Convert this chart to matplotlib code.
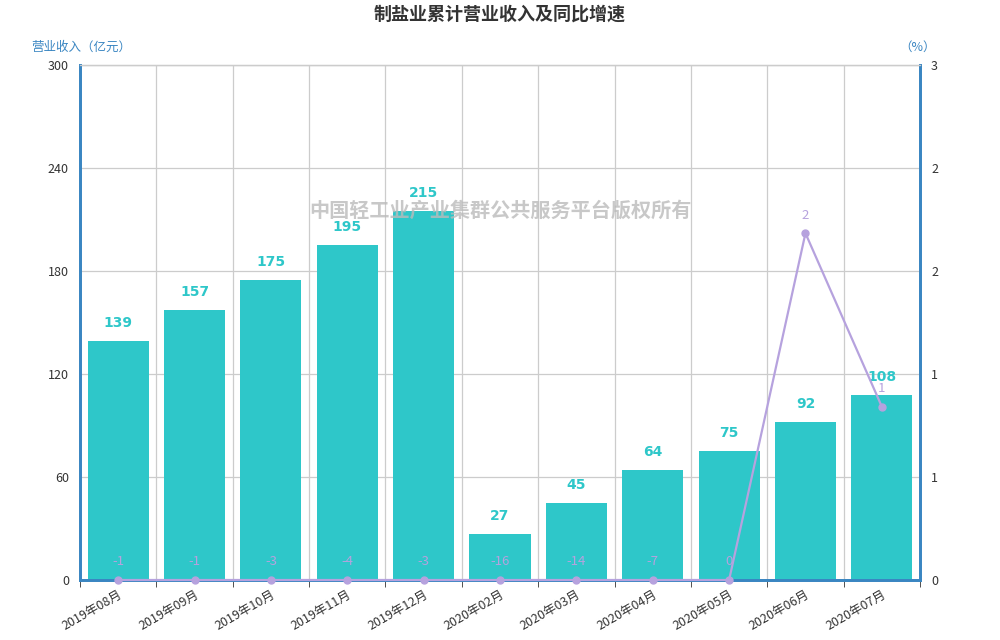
import numpy as np
import matplotlib
matplotlib.use('Agg')
import matplotlib.pyplot as plt
import matplotlib.ticker as mticker

plt.rcParams['font.family'] = ['Noto Sans CJK SC', 'DejaVu Sans']

months  = ['2019年08月', '2019年09月', '2019年10月', '2019年11月', '2019年12月',
           '2020年02月', '2020年03月', '2020年04月', '2020年05月', '2020年06月', '2020年07月']
revenue = [139, 157, 175, 195, 215, 27, 45, 64, 75, 92, 108]
growth  = [-1, -1, -3, -4, -3, -16, -14, -7, 0, 2.02, 1.01]
growth_labels = ['-1', '-1', '-3', '-4', '-3', '-16', '-14', '-7', '0', '2', '1']

barcolor  = '#2ec7c9'
linecolor = '#b6a2de'
axiscolor = '#3a86c2'
gridcolor = '#cccccc'

fig = plt.figure(figsize=[10, 6.4], dpi=100)
ax = fig.add_axes([0.08, 0.09375, 0.84, 0.8047])
ax2 = ax.twinx()

x = np.arange(len(months))
ax.bar(x, revenue, width=0.8, color=barcolor, zorder=2)
ax.set_xlim(-0.5, len(months) - 0.5)
ax.set_ylim(0, 300)
ax.yaxis.set_major_locator(mticker.MultipleLocator(60))

for xi, v in zip(x, revenue):
    ax.annotate(str(v), (xi, v), xytext=(0, 13), textcoords='offset points',
                ha='center', va='center', color=barcolor, fontsize=10,
                fontweight='bold', family='DejaVu Sans', zorder=5)

# line on right axis; values below the axis floor sit on the floor
ax2.set_ylim(0, 3)
gplot = np.clip(growth, 0, None)
ax2.plot(x, gplot, color=linecolor, linewidth=1.6, marker='o', markersize=5,
         clip_on=False, zorder=4)
for xi, v, lab in zip(x, gplot, growth_labels):
    ax2.annotate(lab, (xi, v), xytext=(0, 13), textcoords='offset points',
                 ha='center', va='center', color=linecolor, fontsize=9.5, zorder=5)
ax2.yaxis.set_major_locator(mticker.MultipleLocator(0.6))
ax2.yaxis.set_major_formatter(mticker.FormatStrFormatter('%.0f'))

# grid and ticks
ax.set_xticks(np.arange(len(months) + 1) - 0.5, minor=True)
ax.set_xticks(x)
ax.set_xticklabels(months, rotation=30, ha='right', rotation_mode='anchor',
                   fontsize=9, color='#333333')
ax.tick_params(axis='x', which='major', length=0, pad=6)
ax.tick_params(axis='x', which='minor', length=5, color='#333333', direction='out')
ax.grid(axis='x', which='minor', color=gridcolor, linewidth=0.9, zorder=0)
ax.grid(axis='y', which='major', color=gridcolor, linewidth=0.9, zorder=0)
ax.set_axisbelow(True)

ax.tick_params(axis='y', length=0, pad=8, labelsize=9, labelcolor='#333333')
ax2.tick_params(axis='y', length=0, pad=8, labelsize=9, labelcolor='#333333')

for a in (ax, ax2):
    a.spines['top'].set_color(gridcolor)
    a.spines['top'].set_linewidth(0.9)
    for s in ('left', 'right', 'bottom'):
        a.spines[s].set_color(axiscolor)
        a.spines[s].set_linewidth(2)

fig.text(0.5, 0.978, '制盐业累计营业收入及同比增速', ha='center', va='center',
         fontsize=13, fontweight='bold', color='#333333')
fig.text(0.031, 0.926, '营业收入（亿元）', ha='left', va='center',
         fontsize=9, color=axiscolor)
fig.text(0.936, 0.926, '（%）', ha='right', va='center',
         fontsize=9, color=axiscolor)
fig.text(0.5, 0.672, '中国轻工业产业集群公共服务平台版权所有', ha='center', va='center',
         fontsize=14.5, fontweight='bold', color='#bbbbbb', alpha=0.8, zorder=10)

fig.savefig('out.png', dpi=100)
